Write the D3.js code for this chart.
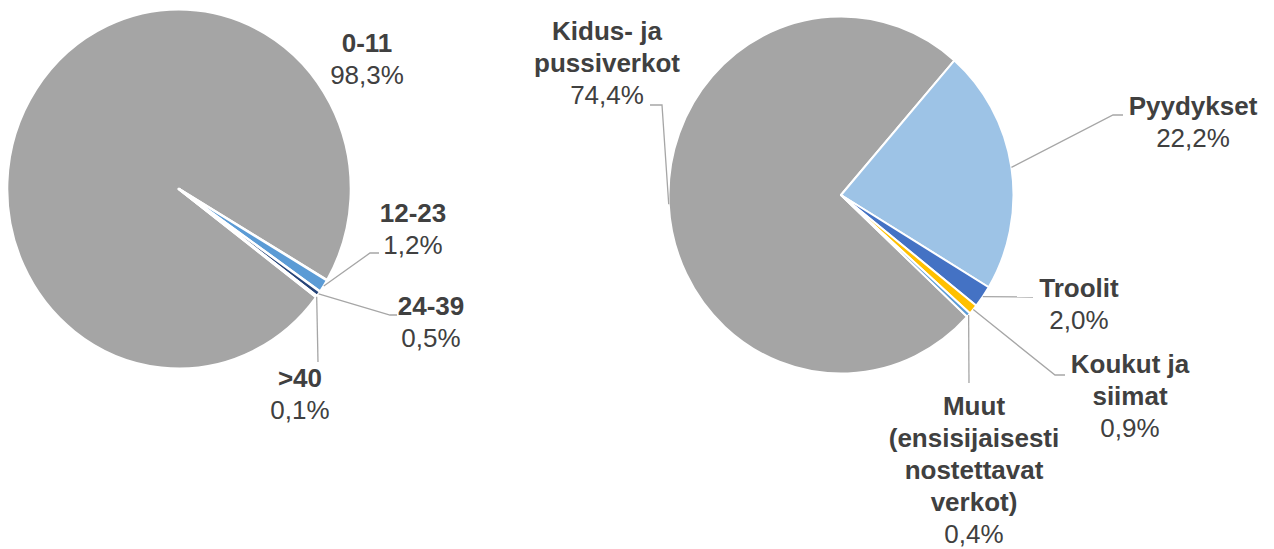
<!DOCTYPE html>
<html>
<head>
<meta charset="utf-8">
<script src="https://cdn.jsdelivr.net/npm/d3@7"></script>
<style>
  html, body { margin: 0; padding: 0; background: #fff; }
  svg { display: block; }
</style>
</head>
<body>
<div id="chart"></div>
<script>
// data
const ageNames = ["0-11", "12-23", "24-39", ">40"];
const ageShares = [98.3, 1.2, 0.5, 0.1];
const gearNames = [["Kidus- ja", "pussiverkot"], ["Pyydykset"], ["Troolit"], ["Koukut ja", "siimat"], ["Muut", "(ensisijaisesti", "nostettavat", "verkot)"]];
const gearShares = [74.4, 22.2, 2.0, 0.9, 0.4];

const ageColors = ["#A5A5A5", "#5B9BD5", "#264478", "#9DC3E6"];
const gearColors = ["#A5A5A5", "#9DC3E6", "#4472C4", "#FFC000", "#5B9BD5"];

const width = 1274, height = 549;
const svg = d3.select("#chart").append("svg")
  .attr("width", width)
  .attr("height", height);

const fmt = v => d3.format(".1f")(v).replace(".", ",") + "%";
const lineH = 32;

// label layout: x centre, first baseline, leader elbow and end
const ageLayout = [
  { x: 367, y: 52, leader: null },
  { x: 413, y: 222, leader: [[370, 253], [379, 253]] },
  { x: 431, y: 315, leader: [[390, 315], [397, 315]] },
  { x: 300, y: 387, leader: [[318, 362]] }
];
const gearLayout = [
  { x: 607, y: 40, leader: [[662, 105], [650, 105]] },
  { x: 1193, y: 115, leader: [[1113, 115], [1123, 115]] },
  { x: 1079, y: 297, leader: [[1033, 297]] },
  { x: 1130, y: 373, leader: [[1055, 375], [1065, 375]] },
  { x: 974, y: 415, leader: [[969, 383]] }
];

function drawPie(opt) {
  const rad = Math.PI / 180;
  const pie = d3.pie().sort(null).value(d => d)
    .startAngle(opt.start * rad)
    .endAngle(opt.start * rad + 2 * Math.PI);
  const arcs = pie(opt.values);
  const arc = d3.arc().innerRadius(0).outerRadius(opt.r);

  const g = svg.append("g")
    .attr("transform", `translate(${opt.cx},${opt.cy}) scale(1,${opt.sy})`);
  g.selectAll("path")
    .data(arcs)
    .join("path")
    .attr("d", arc)
    .attr("fill", (d, i) => opt.colors[i])
    .attr("stroke", "#fff")
    .attr("stroke-width", opt.stroke)
    .attr("stroke-linejoin", "round")
    .attr("vector-effect", "non-scaling-stroke");

  // leader lines from the mid point of each slice's outer edge
  arcs.forEach((d, i) => {
    const lay = opt.layout[i];
    if (!lay.leader) return;
    const a = (d.startAngle + d.endAngle) / 2;
    const p0 = [opt.cx + opt.r * Math.sin(a), opt.cy - opt.r * Math.cos(a) * opt.sy];
    const pts = [p0].concat(lay.leader);
    svg.append("path")
      .attr("d", d3.line()(pts))
      .attr("fill", "none")
      .attr("stroke", "#A6A6A6")
      .attr("stroke-width", 1.3);
  });

  // labels
  opt.values.forEach((v, i) => {
    const lay = opt.layout[i];
    const names = [].concat(opt.names[i]);
    const t = svg.append("text")
      .attr("text-anchor", "middle")
      .style("font-family", "Liberation Sans, Arial, sans-serif")
      .style("font-size", "26px")
      .style("fill", "#404040");
    names.forEach((n, k) => {
      t.append("tspan")
        .attr("x", lay.x)
        .attr("y", lay.y + k * lineH)
        .style("font-weight", "bold")
        .text(n);
    });
    t.append("tspan")
      .attr("x", lay.x)
      .attr("y", lay.y + names.length * lineH)
      .text(fmt(v));
  });
}

drawPie({ cx: 179, cy: 189, r: 172, sy: 1.045, start: 127, stroke: 2.6,
  values: ageShares, names: ageNames, colors: ageColors, layout: ageLayout });
drawPie({ cx: 841, cy: 195, r: 172.5, sy: 1.035, start: 133, stroke: 2,
  values: gearShares, names: gearNames, colors: gearColors, layout: gearLayout });
</script>
</body>
</html>
